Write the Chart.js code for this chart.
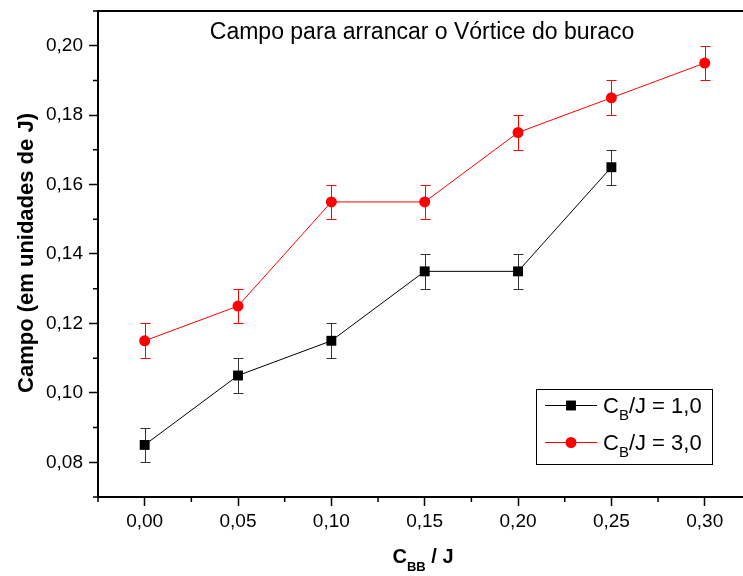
<!DOCTYPE html>
<html>
<head>
<meta charset="utf-8">
<title>Campo para arrancar o Vórtice do buraco</title>
<script src="https://cdn.jsdelivr.net/npm/chart.js@4/dist/chart.umd.min.js"></script>
<style>
  html, body { margin: 0; padding: 0; background: #ffffff; overflow: hidden; }
  canvas { display: block; }
</style>
</head>
<body>
<canvas id="chart" width="743" height="576"></canvas>
<script>
// C_BB / J values on the horizontal axis
const cbbValues = [0.00, 0.05, 0.10, 0.15, 0.20, 0.25, 0.30];

// Field needed to pull the vortex out of the hole, in units of J
const fieldCb1 = [0.085, 0.105, 0.115, 0.135, 0.135, 0.165];
const errorCb1 = [0.005, 0.005, 0.005, 0.005, 0.005, 0.005];
const fieldCb3 = [0.115, 0.125, 0.155, 0.155, 0.175, 0.185, 0.195];
const errorCb3 = [0.005, 0.005, 0.005, 0.005, 0.005, 0.005, 0.005];

// Axis ticks
const xTickValues = [0.00, 0.05, 0.10, 0.15, 0.20, 0.25, 0.30];
const xMinorTicks = [-0.025, 0.025, 0.075, 0.125, 0.175, 0.225, 0.275, 0.325];
const yTickValues = [0.08, 0.10, 0.12, 0.14, 0.16, 0.18, 0.20];
const yMinorTicks = [0.07, 0.09, 0.11, 0.13, 0.15, 0.17, 0.19, 0.21];

const titleText = 'Campo para arrancar o Vórtice do buraco';
const yTitleText = 'Campo (em unidades de J)';
const legendLabels = [
  { main: 'C', sub: 'B', rest: '/J = 1,0' },
  { main: 'C', sub: 'B', rest: '/J = 3,0' }
];

const FONT = '"Liberation Sans", Arial, sans-serif';
const fmt = v => v.toFixed(2).replace('.', ',');

function toPoints(xs, ys) {
  return ys.map((y, i) => ({ x: xs[i], y: y }));
}

// keep the frame flush with the fixed axis sizes
function noLabelPadding(scale) {
  scale.paddingTop = 0;
  scale.paddingBottom = 0;
  scale.paddingLeft = 0;
  scale.paddingRight = 0;
}

// Vertical error bars with caps, drawn under the markers
const errorBars = {
  id: 'errorBars',
  beforeDatasetsDraw(chart) {
    const { ctx, chartArea, scales } = chart;
    ctx.save();
    ctx.beginPath();
    ctx.rect(chartArea.left, chartArea.top, chartArea.right - chartArea.left, chartArea.bottom - chartArea.top);
    ctx.clip();
    chart.data.datasets.forEach(ds => {
      const errs = ds.errors || [];
      ctx.strokeStyle = ds.errorColor;
      ctx.lineWidth = 1;
      ds.data.forEach((p, i) => {
        const e = errs[i];
        if (!e) return;
        const x = Math.round(scales.x.getPixelForValue(p.x)) + 0.5;
        const yTop = Math.round(scales.y.getPixelForValue(p.y + e)) + 0.5;
        const yBot = Math.round(scales.y.getPixelForValue(p.y - e)) + 0.5;
        const cap = 5;
        ctx.beginPath();
        ctx.moveTo(x, yTop); ctx.lineTo(x, yBot);
        ctx.moveTo(x - cap, yTop); ctx.lineTo(x + cap, yTop);
        ctx.moveTo(x - cap, yBot); ctx.lineTo(x + cap, yBot);
        ctx.stroke();
      });
    });
    ctx.restore();
  }
};

// Minor tick marks outside the plot frame
const minorTicks = {
  id: 'minorTicks',
  afterDraw(chart) {
    const { ctx, chartArea, scales } = chart;
    ctx.save();
    ctx.strokeStyle = '#000';
    ctx.lineWidth = 1.5;
    ctx.beginPath();
    xMinorTicks.forEach(v => {
      const x = scales.x.getPixelForValue(v);
      if (x < chartArea.left - 0.5 || x > chartArea.right) return;
      ctx.moveTo(x, chartArea.bottom);
      ctx.lineTo(x, chartArea.bottom + 5);
    });
    yMinorTicks.forEach(v => {
      const y = scales.y.getPixelForValue(v);
      if (y < chartArea.top - 0.5 || y > chartArea.bottom + 0.5) return;
      ctx.moveTo(chartArea.left, y);
      ctx.lineTo(chartArea.left - 5, y);
    });
    ctx.stroke();
    ctx.restore();
  }
};

// Title, axis titles (with subscripts) and the framed legend
const annotations = {
  id: 'annotations',
  afterDraw(chart) {
    const { ctx } = chart;
    ctx.save();
    ctx.fillStyle = '#000';

    // plot title inside the frame
    ctx.font = '23px ' + FONT;
    ctx.textAlign = 'center';
    ctx.textBaseline = 'alphabetic';
    ctx.fillText(titleText, 422, 39);

    // y axis title
    ctx.save();
    ctx.translate(33, 253);
    ctx.rotate(-Math.PI / 2);
    ctx.font = 'bold 22px ' + FONT;
    ctx.textAlign = 'center';
    ctx.fillText(yTitleText, 0, 0);
    ctx.restore();

    // x axis title: C_BB / J
    ctx.textAlign = 'left';
    const bigX = 'bold 20px ' + FONT;
    const smallX = 'bold 13px ' + FONT;
    ctx.font = bigX; const wC = ctx.measureText('C').width;
    ctx.font = smallX; const wBB = ctx.measureText('BB').width;
    ctx.font = bigX; const wRest = ctx.measureText(' / J').width;
    const x0 = 423 - (wC + wBB + wRest) / 2;
    const base = 563;
    ctx.font = bigX; ctx.fillText('C', x0, base);
    ctx.font = smallX; ctx.fillText('BB', x0 + wC, base + 8);
    ctx.font = bigX; ctx.fillText(' / J', x0 + wC + wBB, base);

    // legend box
    const box = { left: 536.5, top: 389.5, right: 712.5, bottom: 464.5 };
    ctx.fillStyle = '#fff';
    ctx.fillRect(box.left, box.top, box.right - box.left, box.bottom - box.top);
    ctx.strokeStyle = '#000';
    ctx.lineWidth = 1;
    ctx.strokeRect(box.left, box.top, box.right - box.left, box.bottom - box.top);

    const rows = [405, 442];
    chart.data.datasets.forEach((ds, i) => {
      const y = rows[i];
      ctx.strokeStyle = ds.borderColor;
      ctx.lineWidth = 1;
      ctx.beginPath();
      ctx.moveTo(545, y + 0.5); ctx.lineTo(597, y + 0.5);
      ctx.stroke();
      ctx.fillStyle = ds.backgroundColor;
      ctx.beginPath();
      if (ds.pointStyle === 'rect') {
        const s = ds.pointRadius * Math.SQRT1_2;
        ctx.fillRect(571 - s, y + 0.5 - s, 2 * s, 2 * s);
      } else {
        ctx.arc(571, y + 0.5, ds.pointRadius, 0, Math.PI * 2);
        ctx.fill();
      }
      const lab = legendLabels[i];
      ctx.fillStyle = '#000';
      const bigL = '22px ' + FONT;
      const smallL = '15px ' + FONT;
      let tx = 603;
      const tb = y + 8;
      ctx.font = bigL; ctx.fillText(lab.main, tx, tb); tx += ctx.measureText(lab.main).width;
      ctx.font = smallL; ctx.fillText(lab.sub, tx, tb + 7); tx += ctx.measureText(lab.sub).width;
      ctx.font = bigL; ctx.fillText(lab.rest, tx, tb);
    });
    ctx.restore();
  }
};

const chart = new Chart(document.getElementById('chart'), {
  type: 'line',
  data: {
    datasets: [
      {
        label: 'CB/J = 1,0',
        data: toPoints(cbbValues, fieldCb1),
        errors: errorCb1,
        errorColor: '#333333',
        borderColor: '#000000',
        backgroundColor: '#000000',
        borderWidth: 1,
        pointStyle: 'rect',
        pointRadius: 7,
        pointBorderWidth: 0,
        pointHoverRadius: 7,
        tension: 0
      },
      {
        label: 'CB/J = 3,0',
        data: toPoints(cbbValues, fieldCb3),
        errors: errorCb3,
        errorColor: '#ff0000',
        borderColor: '#ff0000',
        backgroundColor: '#ff0000',
        borderWidth: 1,
        pointStyle: 'circle',
        pointRadius: 5.5,
        pointBorderWidth: 0,
        pointHoverRadius: 5.5,
        tension: 0
      }
    ]
  },
  options: {
    responsive: false,
    animation: false,
    devicePixelRatio: 1,
    layout: { padding: 0, autoPadding: false },
    plugins: {
      legend: { display: false },
      title: { display: false },
      tooltip: { enabled: false }
    },
    scales: {
      x: {
        type: 'linear',
        position: 'bottom',
        min: -0.025,
        max: 0.3205,
        afterFit(scale) { scale.height = 79; noLabelPadding(scale); },
        afterBuildTicks(scale) { scale.ticks = xTickValues.map(v => ({ value: v })); },
        ticks: {
          color: '#000',
          font: { family: FONT, size: 19 },
          padding: 4,
          maxRotation: 0,
          autoSkip: false,
          callback: v => fmt(v)
        },
        grid: { drawOnChartArea: false, drawTicks: true, tickLength: 9, tickWidth: 1.5, tickColor: '#000' },
        border: { display: true, color: '#000', width: 2 }
      },
      xTop: {
        type: 'linear',
        position: 'top',
        min: -0.025,
        max: 0.3205,
        afterFit(scale) { scale.height = 11; noLabelPadding(scale); },
        ticks: { display: false },
        grid: { display: false, drawTicks: false },
        border: { display: true, color: '#000', width: 2 }
      },
      y: {
        type: 'linear',
        position: 'left',
        min: 0.07,
        max: 0.21,
        afterFit(scale) { scale.width = 98; noLabelPadding(scale); },
        afterBuildTicks(scale) { scale.ticks = yTickValues.map(v => ({ value: v })); },
        ticks: {
          color: '#000',
          font: { family: FONT, size: 19 },
          padding: 6,
          autoSkip: false,
          callback: v => fmt(v)
        },
        grid: { drawOnChartArea: false, drawTicks: true, tickLength: 9, tickWidth: 1.5, tickColor: '#000' },
        border: { display: true, color: '#000', width: 2 }
      }
    }
  },
  plugins: [errorBars, minorTicks, annotations]
});
</script>
</body>
</html>
